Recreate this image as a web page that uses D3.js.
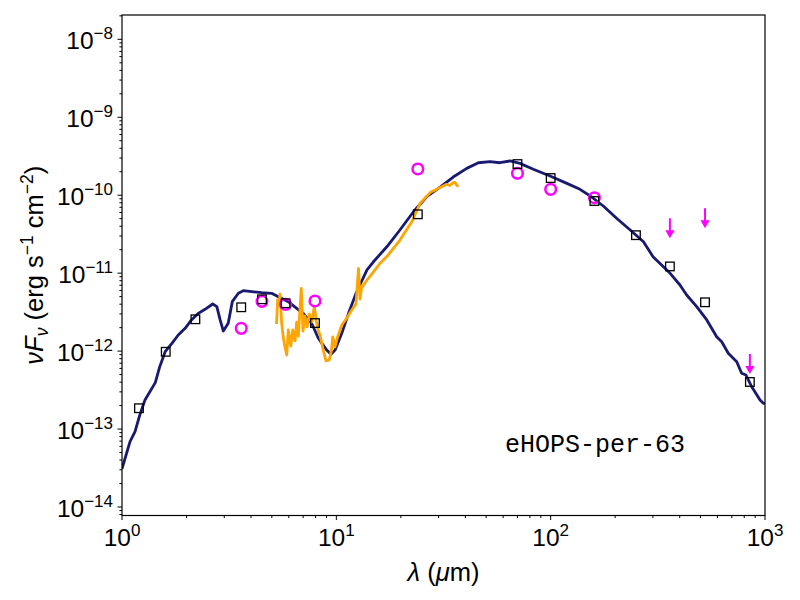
<!DOCTYPE html>
<html>
<head>
<meta charset="utf-8">
<script src="https://cdn.jsdelivr.net/npm/d3@7"></script>
<style>
  body { margin: 0; background: #fff; }
  text { font-family: "Liberation Sans", Arial, sans-serif; fill: #000; }
</style>
</head>
<body>
<div id="sed"></div>
<script>
// model SED (wavelength in micron, nuFnu in erg/s/cm2)
var modelWave = [1.0, 1.09, 1.15, 1.21, 1.28, 1.43, 1.50, 1.59, 1.71, 1.83, 1.97, 2.11, 2.27, 2.44, 2.65, 2.77, 2.87, 2.97,
  3.13, 3.27, 3.49, 3.68, 4.03, 4.49, 4.99, 5.36, 5.97, 6.53, 7.01, 7.67, 8.24, 9.02, 9.44, 9.86, 10.6, 11.4, 12.4,
  13.9, 14.9, 17.2, 19.8, 22.9, 26.4, 30.5, 35.1, 40.6, 46.0, 52.1, 58.0, 64.6, 71.9, 83.0, 99.3, 119, 137, 153, 176,
  203, 235, 271, 301, 361, 401, 431, 480, 535, 595, 628, 674, 738, 778, 815, 867, 948, 982, 1000];
var modelFlux = [3.09e-14, 6.89e-14, 9.25e-14, 1.51e-13, 2.36e-13, 3.94e-13, 6.31e-13, 9.82e-13, 1.26e-12, 1.61e-12,
  1.96e-12, 2.51e-12, 3.05e-12, 3.44e-12, 4.02e-12, 3.72e-12, 2.51e-12, 1.81e-12, 2.28e-12, 4.31e-12, 5.52e-12,
  5.96e-12, 5.78e-12, 5.61e-12, 5.52e-12, 4.99e-12, 4.31e-12, 3.54e-12, 3.05e-12, 2.28e-12, 1.46e-12, 1.03e-12,
  9.1e-13, 1.03e-12, 1.69e-12, 3.05e-12, 5.65e-12, 1.10e-11, 1.40e-11, 2.18e-11, 3.58e-11, 6.14e-11, 9.57e-11,
  1.27e-10, 1.71e-10, 2.21e-10, 2.61e-10, 2.69e-10, 2.61e-10, 2.75e-10, 2.56e-10, 2.15e-10, 1.76e-10, 1.42e-10,
  1.19e-10, 9.77e-11, 7.27e-11, 5.06e-11, 3.58e-11, 2.53e-11, 1.61e-11, 9.95e-12, 7.05e-12, 5.25e-12, 3.72e-12,
  2.51e-12, 1.53e-12, 1.32e-12, 9.37e-13, 7.31e-13, 5.19e-13, 4.93e-13, 3.49e-13, 2.36e-13, 2.14e-13, 2.14e-13];

// IRS spectrum
var specWave = [5.26, 5.32, 5.40, 5.46, 5.56, 5.66, 5.76, 5.87, 5.97, 6.13, 6.26, 6.42, 6.53, 6.65, 6.86, 6.99, 7.14,
  7.30, 7.48, 7.67, 7.89, 8.08, 8.24, 8.39, 8.69, 8.95, 9.27, 9.49, 9.62, 9.86, 10.1, 10.6, 11.2, 11.8, 12.35, 12.69,
  12.9, 13.1, 13.9, 14.9, 16.0, 17.2, 19.8, 22.5, 24.6, 27.4, 30.5, 32.7, 33.9, 35.1, 35.8, 36.4, 37.1];
var specFlux = [2.23e-12, 4.53e-12, 3.79e-12, 5.40e-12, 2.29e-12, 1.47e-12, 1.13e-12, 8.91e-13, 1.87e-12, 1.16e-12,
  1.87e-12, 1.35e-12, 2.36e-12, 1.56e-12, 6.36e-12, 1.81e-12, 2.82e-12, 2.04e-12, 2.99e-12, 2.36e-12, 3.68e-12,
  2.36e-12, 1.81e-12, 1.61e-12, 1.03e-12, 7.46e-13, 7.69e-13, 1.03e-12, 1.52e-12, 1.13e-12, 1.47e-12, 2.16e-12,
  2.66e-12, 3.37e-12, 4.02e-12, 1.15e-11, 4.66e-12, 6.46e-12, 8.17e-12, 1.04e-11, 1.34e-11, 1.63e-11, 2.66e-11,
  4.57e-11, 7.87e-11, 1.08e-10, 1.26e-10, 1.38e-10, 1.33e-10, 1.45e-10, 1.46e-10, 1.35e-10, 1.29e-10];

// photometry (open squares)
var photWave = [1.2, 1.6, 2.2, 3.6, 4.5, 5.8, 7.95, 24, 70, 100, 160, 250, 360, 525, 850];
var photFlux = [1.85e-13, 9.8e-13, 2.56e-12, 3.65e-12, 4.62e-12, 4.11e-12, 2.29e-12, 5.69e-11, 2.51e-10, 1.66e-10,
  8.43e-11, 3.07e-11, 1.22e-11, 4.23e-12, 4.02e-13];

// observed fluxes (magenta circles)
var obsWave = [3.6, 4.5, 5.8, 7.95, 24, 70, 100, 160];
var obsFlux = [1.96e-12, 4.35e-12, 3.98e-12, 4.4e-12, 2.17e-10, 1.91e-10, 1.19e-10, 9.29e-11];

// upper limits (magenta arrows)
var limWave = [360, 525, 850];
var limFlux = [5.06e-11, 6.79e-11, 9.18e-13];

var xTickVals = [1, 10, 100, 1000];
var xTickExps = ["0", "1", "2", "3"];
var yTickExps = [-14, -13, -12, -11, -10, -9, -8];

var sourceName = "eHOPS-per-63";

var margin = {top: 15, right: 35, bottom: 84.5, left: 122},
    width = 800 - margin.left - margin.right,
    height = 600 - margin.top - margin.bottom;

var x = d3.scaleLog().domain([1, 1000]).range([0, width]);
var y = d3.scaleLog().domain([Math.pow(10, -14.109), Math.pow(10, -7.688)]).range([height, 0]);

var svg = d3.select("#sed").append("svg")
    .attr("width", 800)
    .attr("height", 600)
  .append("g")
    .attr("transform", "translate(" + margin.left + "," + margin.top + ")");

function zip(a, b) { return a.map(function(v, i) { return [v, b[i]]; }); }

var line = d3.line()
    .x(function(d) { return x(d[0]); })
    .y(function(d) { return y(d[1]); });

// clip to the axes box
svg.append("clipPath").attr("id", "clip")
  .append("rect").attr("width", width).attr("height", height);

var plot = svg.append("g").attr("clip-path", "url(#clip)");

plot.append("path")
    .datum(zip(modelWave, modelFlux))
    .attr("d", line)
    .attr("fill", "none")
    .attr("stroke", "#191970")
    .attr("stroke-width", 2.8)
    .attr("stroke-linejoin", "round");

plot.append("path")
    .datum(zip(specWave, specFlux))
    .attr("d", line)
    .attr("fill", "none")
    .attr("stroke", "#ffa500")
    .attr("stroke-width", 2.8)
    .attr("stroke-linejoin", "round");

plot.selectAll(".obs")
    .data(zip(obsWave, obsFlux))
  .enter().append("circle")
    .attr("class", "obs")
    .attr("cx", function(d) { return x(d[0]); })
    .attr("cy", function(d) { return y(d[1]); })
    .attr("r", 5.3)
    .attr("fill", "none")
    .attr("stroke", "#ff00ff")
    .attr("stroke-width", 2.5);

var sq = 8.6;
plot.selectAll(".phot")
    .data(zip(photWave, photFlux))
  .enter().append("rect")
    .attr("class", "phot")
    .attr("x", function(d) { return x(d[0]) - sq / 2; })
    .attr("y", function(d) { return y(d[1]) - sq / 2; })
    .attr("width", sq)
    .attr("height", sq)
    .attr("fill", "none")
    .attr("stroke", "#000")
    .attr("stroke-width", 1.3);

// upper limit arrows pointing down
var lims = plot.selectAll(".lim")
    .data(zip(limWave, limFlux))
  .enter().append("g")
    .attr("class", "lim")
    .attr("transform", function(d) { return "translate(" + x(d[0]) + "," + y(d[1]) + ")"; });
lims.append("line")
    .attr("x1", 0).attr("x2", 0).attr("y1", 0).attr("y2", 13)
    .attr("stroke", "#ff00ff").attr("stroke-width", 2);
lims.append("path")
    .attr("d", "M-4.6,12 L4.6,12 L0,20 Z")
    .attr("fill", "#ff00ff");

// spines
svg.append("rect")
    .attr("width", width)
    .attr("height", height)
    .attr("fill", "none")
    .attr("stroke", "#000")
    .attr("stroke-width", 1.2);

// minor + major ticks
function logTicks(scale) {
  var d = scale.domain(), out = [];
  var lo = Math.floor(Math.log10(d3.min(d))), hi = Math.ceil(Math.log10(d3.max(d)));
  for (var e = lo; e <= hi; e++) {
    for (var m = 1; m < 10; m++) {
      var v = m * Math.pow(10, e);
      if (v >= d3.min(d) * 0.9999 && v <= d3.max(d) * 1.0001) out.push({v: v, major: m === 1});
    }
  }
  return out;
}

svg.selectAll(".xtick")
    .data(logTicks(x))
  .enter().append("line")
    .attr("x1", function(d) { return x(d.v); })
    .attr("x2", function(d) { return x(d.v); })
    .attr("y1", height)
    .attr("y2", function(d) { return height + (d.major ? 4.5 : 2.6); })
    .attr("stroke", "#000").attr("stroke-width", 1);

svg.selectAll(".ytick")
    .data(logTicks(y))
  .enter().append("line")
    .attr("y1", function(d) { return y(d.v); })
    .attr("y2", function(d) { return y(d.v); })
    .attr("x1", 0)
    .attr("x2", function(d) { return d.major ? -4.5 : -2.6; })
    .attr("stroke", "#000").attr("stroke-width", 1);

// tick labels
var xl = svg.selectAll(".xlab")
    .data(xTickVals)
  .enter().append("text")
    .attr("x", function(d) { return x(d); })
    .attr("y", height + 30)
    .attr("text-anchor", "middle")
    .style("font-size", "24.5px");
xl.append("tspan").text("10");
xl.append("tspan").attr("dy", -10).style("font-size", "17px").text(function(d, i) { return xTickExps[i]; });

var yl = svg.selectAll(".ylab")
    .data(yTickExps)
  .enter().append("text")
    .attr("x", -9)
    .attr("y", function(d) { return y(Math.pow(10, d)) + 9.5; })
    .attr("text-anchor", "end")
    .style("font-size", "24.5px");
yl.append("tspan").text("10");
yl.append("tspan").attr("dy", -10).style("font-size", "17px").text(function(d) { return "\u2212" + Math.abs(d); });

// axis labels
var xt = svg.append("text")
    .attr("x", width / 2)
    .attr("y", height + 65)
    .attr("text-anchor", "middle")
    .style("font-size", "25.5px");
xt.append("tspan").style("font-style", "italic").text("\u03bb");
xt.append("tspan").text(" (");
xt.append("tspan").style("font-style", "italic").text("\u03bc");
xt.append("tspan").text("m)");

var yt = svg.append("text")
    .attr("transform", "translate(" + (-79) + "," + (height / 2) + ") rotate(-90)")
    .attr("text-anchor", "middle")
    .style("font-size", "25.5px");
yt.append("tspan").style("font-style", "italic").text("\u03bdF");
yt.append("tspan").attr("dy", 5).style("font-size", "17.5px").style("font-style", "italic").text("\u03bd");
yt.append("tspan").attr("dy", -5).text(" (erg s");
yt.append("tspan").attr("dy", -10).style("font-size", "17.5px").text("\u22121");
yt.append("tspan").attr("dy", 10).text(" cm");
yt.append("tspan").attr("dy", -10).style("font-size", "17.5px").text("\u22122");
yt.append("tspan").attr("dy", 10).text(")");

// source name
svg.append("text")
    .attr("x", 383)
    .attr("y", 437)
    .style("font-family", "'Liberation Mono', monospace")
    .style("font-size", "25px")
    .text(sourceName);
</script>
</body>
</html>
